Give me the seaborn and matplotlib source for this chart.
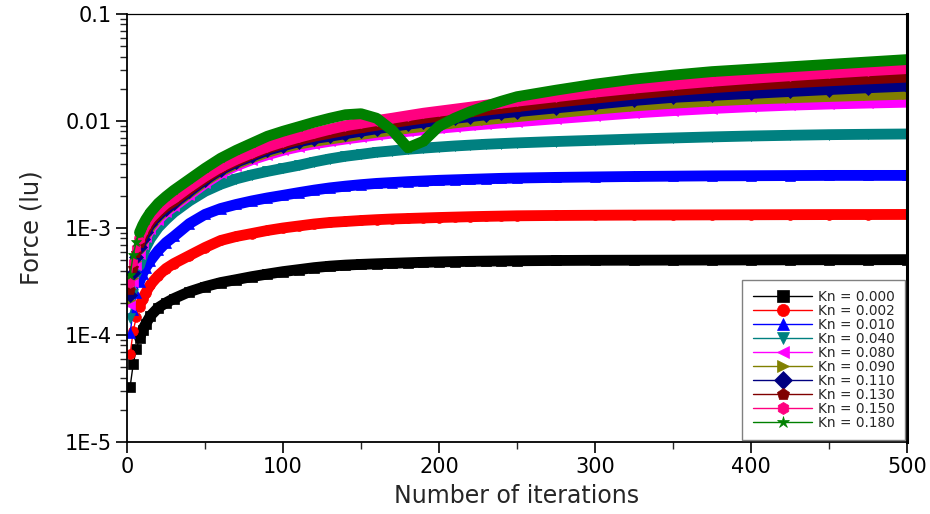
import matplotlib
matplotlib.use("Agg")
import matplotlib.pyplot as plt
import pandas as pd
import seaborn as sns
from matplotlib.ticker import FixedLocator, LogLocator, NullFormatter, MultipleLocator

# Iteration numbers at which the force was sampled
iterations = [2, 4, 6, 8, 10, 12, 15, 20, 25, 30, 40, 50, 60, 70, 80, 90, 100,
              110, 120, 130, 140, 150, 160, 170, 180, 190, 200, 210, 220, 230, 240, 250,
              275, 300, 325, 350, 375, 400, 425, 450, 475, 500]

# Force (lattice units) for each Knudsen number
kn_0000 = [3.3e-5, 5.4e-5, 7.4e-5, 9.4e-5, 1.12e-4, 1.27e-4, 1.51e-4, 1.80e-4, 2.00e-4, 2.19e-4,
           2.54e-4, 2.83e-4, 3.09e-4, 3.29e-4, 3.51e-4, 3.71e-4, 3.91e-4,
           4.08e-4, 4.26e-4, 4.40e-4, 4.50e-4, 4.57e-4, 4.63e-4, 4.68e-4, 4.73e-4, 4.78e-4,
           4.82e-4, 4.85e-4, 4.88e-4, 4.90e-4, 4.92e-4, 4.94e-4,
           4.97e-4, 4.99e-4, 5.00e-4, 5.01e-4, 5.02e-4, 5.03e-4, 5.04e-4, 5.05e-4, 5.05e-4, 5.06e-4]
kn_0002 = [6.67e-5, 1.10e-4, 1.48e-4, 1.84e-4, 2.19e-4, 2.49e-4, 2.96e-4, 3.59e-4, 4.18e-4, 4.65e-4,
           5.53e-4, 6.57e-4, 7.64e-4, 8.33e-4, 8.88e-4, 9.48e-4, 1.000e-3,
           1.044e-3, 1.090e-3, 1.126e-3, 1.150e-3, 1.175e-3, 1.196e-3, 1.214e-3, 1.227e-3, 1.240e-3,
           1.253e-3, 1.264e-3, 1.275e-3, 1.284e-3, 1.292e-3, 1.300e-3,
           1.309e-3, 1.315e-3, 1.320e-3, 1.323e-3, 1.326e-3, 1.329e-3, 1.332e-3, 1.335e-3, 1.336e-3, 1.338e-3]
kn_0010 = [1.05e-4, 1.72e-4, 2.49e-4, 3.15e-4, 3.75e-4, 4.27e-4, 4.96e-4, 6.16e-4, 7.31e-4, 8.33e-4,
           1.10e-3, 1.34e-3, 1.52e-3, 1.66e-3, 1.79e-3, 1.91e-3, 2.02e-3,
           2.14e-3, 2.26e-3, 2.37e-3, 2.46e-3, 2.54e-3, 2.61e-3, 2.66e-3, 2.71e-3, 2.75e-3,
           2.79e-3, 2.82e-3, 2.85e-3, 2.88e-3, 2.91e-3, 2.93e-3,
           2.97e-3, 3.00e-3, 3.03e-3, 3.05e-3, 3.07e-3, 3.08e-3, 3.09e-3, 3.10e-3, 3.10e-3, 3.10e-3]
kn_0040 = [1.45e-4, 2.43e-4, 3.44e-4, 4.45e-4, 5.53e-4, 6.57e-4, 7.97e-4, 1.01e-3, 1.20e-3, 1.40e-3,
           1.79e-3, 2.20e-3, 2.56e-3, 2.88e-3, 3.14e-3, 3.38e-3, 3.61e-3,
           3.85e-3, 4.15e-3, 4.43e-3, 4.68e-3, 4.88e-3, 5.10e-3, 5.26e-3, 5.44e-3, 5.58e-3,
           5.71e-3, 5.84e-3, 5.95e-3, 6.06e-3, 6.15e-3, 6.24e-3,
           6.43e-3, 6.60e-3, 6.78e-3, 6.94e-3, 7.10e-3, 7.24e-3, 7.35e-3, 7.45e-3, 7.51e-3, 7.56e-3]
kn_0080 = [1.92e-4, 3.15e-4, 4.55e-4, 5.77e-4, 7.01e-4, 8.15e-4, 9.79e-4, 1.20e-3, 1.41e-3, 1.59e-3,
           2.04e-3, 2.61e-3, 3.24e-3, 3.81e-3, 4.34e-3, 4.83e-3, 5.32e-3,
           5.74e-3, 6.12e-3, 6.46e-3, 6.78e-3, 7.09e-3, 7.40e-3, 7.71e-3, 8.00e-3, 8.28e-3,
           8.55e-3, 8.81e-3, 9.09e-3, 9.34e-3, 9.59e-3, 9.84e-3,
           1.050e-2, 1.117e-2, 1.187e-2, 1.250e-2, 1.308e-2, 1.360e-2, 1.405e-2, 1.441e-2, 1.471e-2, 1.498e-2]
kn_0090 = [2.14e-4, 3.44e-4, 4.96e-4, 6.29e-4, 7.47e-4, 8.69e-4, 1.03e-3, 1.27e-3, 1.47e-3, 1.66e-3,
           2.13e-3, 2.73e-3, 3.38e-3, 3.98e-3, 4.53e-3, 5.10e-3, 5.62e-3,
           6.08e-3, 6.46e-3, 6.78e-3, 7.12e-3, 7.48e-3, 7.84e-3, 8.19e-3, 8.55e-3, 8.89e-3,
           9.24e-3, 9.59e-3, 9.95e-3, 1.029e-2, 1.063e-2, 1.098e-2,
           1.189e-2, 1.288e-2, 1.383e-2, 1.466e-2, 1.538e-2, 1.599e-2, 1.648e-2, 1.694e-2, 1.738e-2, 1.781e-2]
kn_0110 = [2.38e-4, 3.83e-4, 5.41e-4, 6.71e-4, 7.97e-4, 9.17e-4, 1.09e-3, 1.32e-3, 1.52e-3, 1.70e-3,
           2.20e-3, 2.82e-3, 3.49e-3, 4.11e-3, 4.68e-3, 5.32e-3, 5.86e-3,
           6.39e-3, 6.85e-3, 7.20e-3, 7.60e-3, 8.02e-3, 8.46e-3, 8.89e-3, 9.32e-3, 9.73e-3,
           1.016e-2, 1.056e-2, 1.098e-2, 1.142e-2, 1.182e-2, 1.221e-2,
           1.325e-2, 1.435e-2, 1.555e-2, 1.662e-2, 1.735e-2, 1.808e-2, 1.887e-2, 1.967e-2, 2.045e-2, 2.116e-2]
kn_0130 = [2.65e-4, 4.27e-4, 5.90e-4, 7.31e-4, 8.51e-4, 9.68e-4, 1.15e-3, 1.38e-3, 1.59e-3, 1.77e-3,
           2.30e-3, 2.91e-3, 3.61e-3, 4.24e-3, 4.88e-3, 5.56e-3, 6.12e-3,
           6.67e-3, 7.20e-3, 7.68e-3, 8.19e-3, 8.65e-3, 9.12e-3, 9.63e-3, 1.012e-2, 1.061e-2,
           1.108e-2, 1.157e-2, 1.208e-2, 1.261e-2, 1.311e-2, 1.363e-2,
           1.498e-2, 1.633e-2, 1.781e-2, 1.920e-2, 2.045e-2, 2.162e-2, 2.267e-2, 2.372e-2, 2.472e-2, 2.569e-2]
kn_0150 = [3.09e-4, 4.86e-4, 6.57e-4, 7.97e-4, 9.28e-4, 1.06e-3, 1.23e-3, 1.46e-3, 1.70e-3, 1.89e-3,
           2.42e-3, 3.04e-3, 3.73e-3, 4.38e-3, 5.04e-3, 5.74e-3, 6.39e-3,
           7.04e-3, 7.68e-3, 8.37e-3, 9.03e-3, 9.53e-3, 1.008e-2, 1.061e-2, 1.120e-2, 1.182e-2,
           1.234e-2, 1.288e-2, 1.345e-2, 1.405e-2, 1.466e-2, 1.531e-2,
           1.687e-2, 1.859e-2, 2.027e-2, 2.185e-2, 2.347e-2, 2.498e-2, 2.648e-2, 2.795e-2, 2.943e-2, 3.087e-2]
kn_0180 = [3.67e-4, 5.65e-4, 7.47e-4, 9.07e-4, 1.06e-3, 1.20e-3, 1.40e-3, 1.70e-3, 1.97e-3, 2.25e-3,
           2.85e-3, 3.61e-3, 4.48e-3, 5.32e-3, 6.19e-3, 7.20e-3, 8.02e-3,
           8.83e-3, 9.73e-3, 1.061e-2, 1.144e-2, 1.169e-2, 1.061e-2, 8.19e-3, 5.62e-3, 6.46e-3,
           8.93e-3, 1.061e-2, 1.221e-2, 1.375e-2, 1.531e-2, 1.687e-2,
           1.941e-2, 2.209e-2, 2.461e-2, 2.683e-2, 2.893e-2, 3.047e-2, 3.209e-2, 3.379e-2, 3.559e-2, 3.748e-2]

kn_labels = ["Kn = 0.000", "Kn = 0.002", "Kn = 0.010", "Kn = 0.040", "Kn = 0.080",
             "Kn = 0.090", "Kn = 0.110", "Kn = 0.130", "Kn = 0.150", "Kn = 0.180"]
series = [kn_0000, kn_0002, kn_0010, kn_0040, kn_0080,
          kn_0090, kn_0110, kn_0130, kn_0150, kn_0180]
colors = ["#000000", "#FF0000", "#0000FF", "#008080", "#FF00FF",
          "#808000", "#000080", "#800000", "#FF0080", "#008000"]
markers = ["s", "o", "^", "v", "<", ">", "D", "p", "h", "*"]

frames = [pd.DataFrame({"iteration": iterations, "force": vals, "Kn": lab})
          for lab, vals in zip(kn_labels, series)]
df = pd.concat(frames, ignore_index=True)

sns.set_style("ticks")
plt.rcParams["font.family"] = ["DejaVu Sans"]

fig = plt.figure(figsize=(9.3, 5.14), dpi=100)
ax = fig.add_axes([0.1366, 0.1401, 0.8387, 0.8327])

for lab, col, mk in zip(kn_labels, colors, markers):
    sub = df[df["Kn"] == lab]
    # dense band of overlapping symbols
    sns.lineplot(data=sub[sub["iteration"] >= 8], x="iteration", y="force", color=col,
                 linewidth=7.8, solid_joinstyle="round", solid_capstyle="round",
                 ax=ax, legend=False)
    sns.lineplot(data=sub, x="iteration", y="force", color=col, linewidth=1.0,
                 marker=mk, markersize=7, markeredgecolor=col, markeredgewidth=0.5,
                 label=lab, ax=ax)

ax.set_yscale("log")
ax.set_xlim(0, 500)
ax.set_ylim(1e-5, 0.1)

ax.yaxis.set_major_locator(FixedLocator([1e-5, 1e-4, 1e-3, 1e-2, 1e-1]))
ax.set_yticklabels(["1E-5", "1E-4", "1E-3", "0.01", "0.1"])
ax.yaxis.set_minor_locator(LogLocator(base=10, subs=(2, 3, 4, 5, 6, 7, 8, 9)))
ax.yaxis.set_minor_formatter(NullFormatter())
ax.xaxis.set_major_locator(MultipleLocator(100))
ax.xaxis.set_minor_locator(MultipleLocator(50))

ax.tick_params(axis="both", which="major", direction="out", length=8, width=1.2,
               labelsize=15, pad=3, colors="black", top=False, right=False)
ax.tick_params(axis="both", which="minor", direction="out", length=5, width=1.0,
               top=False, right=False)

for name, sp in ax.spines.items():
    sp.set_visible(True)
    sp.set_color("black")
ax.spines["left"].set_linewidth(1.3)
ax.spines["bottom"].set_linewidth(1.3)
ax.spines["top"].set_linewidth(0.9)
ax.spines["right"].set_linewidth(2.2)

ax.set_xlabel("Number of iterations", fontsize=17, labelpad=5)
ax.set_ylabel("Force (lu)", fontsize=17.5, labelpad=15)

handles, labels = ax.get_legend_handles_labels()
keep = [(h, l) for h, l in zip(handles, labels) if l in kn_labels]
leg = ax.legend([h for h, _ in keep], [l for _, l in keep], loc="lower right",
                bbox_to_anchor=(1.0, 0.0), fontsize=9.8, frameon=True, fancybox=False,
                edgecolor="#808080", framealpha=1, handlelength=4.4, handletextpad=0.4,
                labelspacing=0.0, borderpad=0.75, borderaxespad=0.15, markerscale=1.25)
leg.get_frame().set_linewidth(1.0)

fig.savefig("out.png", dpi=100)
